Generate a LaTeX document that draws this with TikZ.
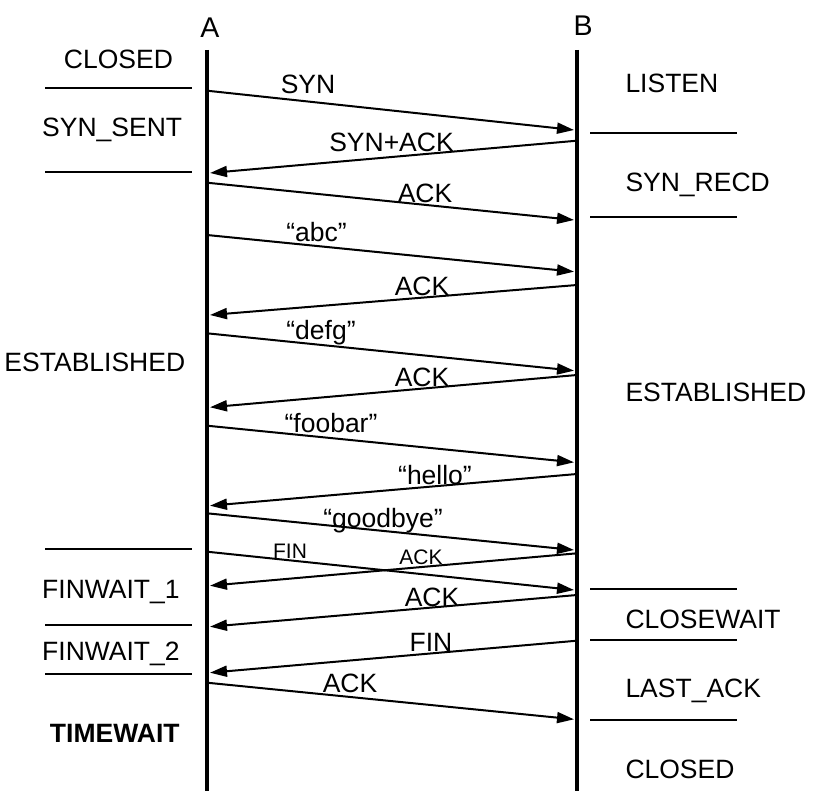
\documentclass[tikz,border=0pt]{standalone}
\usepackage{fontspec}
\setmainfont{Liberation Sans}
\usetikzlibrary{arrows.meta}

\begin{document}
\begin{tikzpicture}[x=0.4pt,y=-0.4pt]
\tikzstyle{every node}=[inner sep=0pt,font=\fontsize{10.6}{12}\selectfont]
\tikzstyle{host}=[anchor=base,font=\fontsize{11.4}{13}\selectfont]
\tikzstyle{life}=[line width=1.4pt]
\tikzstyle{sep}=[line width=0.8pt]
\tikzstyle{msg}=[line width=0.8pt,-{Triangle[length=6.8pt,width=4.4pt]}]
\tikzstyle{small}=[anchor=base,font=\fontsize{8.4}{10}\selectfont]
\useasboundingbox (0,0) rectangle (814,812);

% hosts and lifelines
\node[host] (A) at (210,38) {A};
\node[host] (B) at (583,36) {B};
\coordinate (Atop) at (207,50);
\coordinate (Abot) at (207,791);
\coordinate (Btop) at (577,50);
\coordinate (Bbot) at (577,791);
\draw[life] (Atop) -- (Abot);
\draw[life] (Btop) -- (Bbot);

% state separators
\foreach \y [count=\i] in {88,172,549,625,674}{
  \coordinate (lsa\i) at (45,\y);
  \coordinate (lsb\i) at (192,\y);
  \draw[sep] (lsa\i) -- (lsb\i);
}
\foreach \y [count=\i] in {133,217,589,640,720}{
  \coordinate (rsa\i) at (590,\y);
  \coordinate (rsb\i) at (737,\y);
  \draw[sep] (rsa\i) -- (rsb\i);
}

% states of A
\node[anchor=base west] (closedA) at (63.5,68.5) {CLOSED};
\node[anchor=base west] (synsent) at (41.7,137) {SYN\_SENT};
\node[anchor=base west] (estA) at (4,371.5) {ESTABLISHED};
\node[anchor=base west] (finwait1) at (41.7,598) {FINWAIT\_1};
\node[anchor=base west] (finwait2) at (41.7,660) {FINWAIT\_2};
\node[anchor=base west,font=\fontsize{10.6}{12}\selectfont\bfseries] (timewait) at (49.5,742) {TIMEWAIT};

% states of B
\node[anchor=base west] (listen) at (625,92.5) {LISTEN};
\node[anchor=base west] (synrecd) at (625,192) {SYN\_RECD};
\node[anchor=base west] (estB) at (625,401.5) {ESTABLISHED};
\node[anchor=base west] (closewait) at (625,628) {CLOSEWAIT};
\node[anchor=base west] (lastack) at (625,697) {LAST\_ACK};
\node[anchor=base west] (closedB) at (625,778.5) {CLOSED};

% messages A -> B
\foreach \ys/\ye/\lx/\ly/\txt [count=\i] in {90.7/130/308/94/SYN,
    182.7/220/425/202.7/ACK, 235/271.7/316.5/241.7/“abc”,
    333.3/370.7/321/340/“defg”, 425.7/462.3/331/432.7/“foobar”,
    513.3/550/383/527.5/“goodbye”, 682.7/719.3/350/692.7/ACK}{
  \coordinate (abs\i) at (207,\ys);
  \coordinate (abe\i) at (574,\ye);
  \draw[msg] (abs\i) -- (abe\i);
  \node[anchor=base] (abl\i) at (\lx,\ly) {\txt};
}

% messages B -> A
\foreach \ys/\ye/\lx/\ly/\txt [count=\i] in {140.7/173/391.5/151.7/SYN+ACK,
    285/315/422/296/ACK, 375/407.3/422/387/ACK,
    474/505.7/435/485/“hello”, 595/626.7/432/606/ACK,
    640.7/672.7/431/651.7/FIN}{
  \coordinate (bas\i) at (577,\ys);
  \coordinate (bae\i) at (210,\ye);
  \draw[msg] (bas\i) -- (bae\i);
  \node[anchor=base] (bal\i) at (\lx,\ly) {\txt};
}

% crossing FIN / ACK
\coordinate (fins) at (207,551.7);
\coordinate (fine) at (574,590);
\draw[msg] (fins) -- (fine);
\node[small] (finl) at (290,558) {FIN};
\coordinate (acks) at (577,553.3);
\coordinate (acke) at (210,585.7);
\draw[msg] (acks) -- (acke);
\node[small] (ackl) at (421,565) {ACK};
\end{tikzpicture}
\end{document}
